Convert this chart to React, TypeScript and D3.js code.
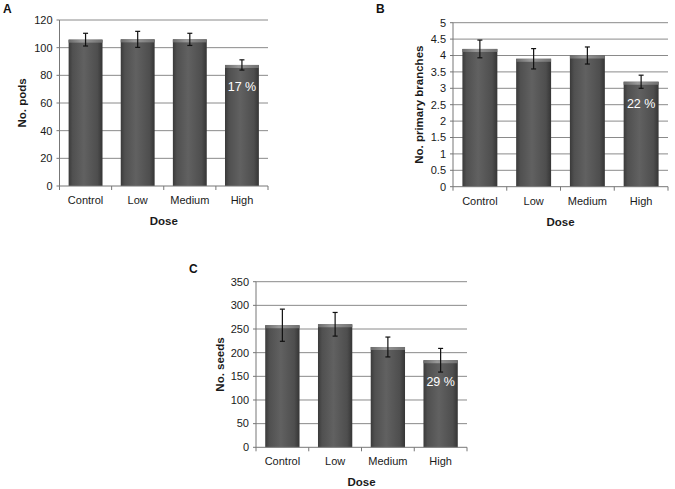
import React from "react";
import * as d3 from "d3";

const categories = ["Control", "Low", "Medium", "High"];

const podsMean = [105.8, 106, 106, 87.5];
const podsErr = [4.6, 5.8, 4.4, 3.7];
const podsTicks = [0, 20, 40, 60, 80, 100, 120];

const branchesMean = [4.2, 3.9, 4.0, 3.2];
const branchesErr = [0.27, 0.31, 0.26, 0.2];
const branchesTicks = [0, 0.5, 1, 1.5, 2, 2.5, 3, 3.5, 4, 4.5, 5];

const seedsMean = [258, 260, 212, 184];
const seedsErr = [34, 25, 21, 25];
const seedsTicks = [0, 50, 100, 150, 200, 250, 300, 350];

const panelLetters = ["A", "B", "C"];
const yTitles = ["No. pods", "No. primary branches", "No. seeds"];
const xTitle = "Dose";
const pctLabels = ["17 %", "22 %", "29 %"];

const FONT = "Arial, 'Liberation Sans', Helvetica, sans-serif";

type PanelProps = {
  idx: number;
  means: number[];
  errs: number[];
  ticks: number[];
  left: number;
  top: number;
  right: number;
  bottom: number;
  titleDx: number;
  letterX: number;
  letterY: number;
};

function Panel(p: PanelProps) {
  const x = d3
    .scaleBand<string>()
    .domain(categories)
    .range([p.left, p.right])
    .paddingInner(0.35)
    .paddingOuter(0.175);
  const y = d3
    .scaleLinear()
    .domain([0, p.ticks[p.ticks.length - 1]])
    .range([p.bottom, p.top]);
  const step = x.step();
  const fmt = (v: number) => String(v);
  const last = categories.length - 1;
  return (
    <g>
      <text x={p.letterX} y={p.letterY} fontFamily={FONT} fontWeight="bold" fontSize={12} fill="#111">
        {panelLetters[p.idx]}
      </text>
      {p.ticks.filter((t) => t > 0).map((t) => (
        <line key={"g" + t} x1={p.left} x2={p.right} y1={y(t)} y2={y(t)} stroke="#8a8a8a" strokeWidth={1} />
      ))}
      {p.ticks.map((t) => (
        <g key={"t" + t}>
          <line x1={p.left - 3} x2={p.left} y1={y(t)} y2={y(t)} stroke="#777" />
          <text x={p.left - 7} y={y(t)} dy="0.35em" textAnchor="end" fontFamily={FONT} fontSize={11} fill="#1a1a1a">
            {fmt(t)}
          </text>
        </g>
      ))}
      {categories.map((c, i) => {
        const bx = x(c)!;
        const bw = x.bandwidth();
        const yTop = y(p.means[i]);
        const e1 = y(p.means[i] + p.errs[i]);
        const e2 = y(p.means[i] - p.errs[i]);
        const cx = bx + bw / 2;
        return (
          <g key={c}>
            <rect x={bx} y={yTop} width={bw} height={p.bottom - yTop} fill="url(#barGrad)" />
            <rect x={bx} y={yTop} width={bw} height={3} fill="url(#capGrad)" />
            <line x1={cx} x2={cx} y1={e1} y2={e2} stroke="#111" strokeWidth={1.2} />
            <line x1={cx - 2.5} x2={cx + 2.5} y1={e1} y2={e1} stroke="#111" strokeWidth={1.2} />
            <line x1={cx - 2.5} x2={cx + 2.5} y1={e2} y2={e2} stroke="#111" strokeWidth={1.2} />
            {i === last && (
              <text x={cx} y={yTop + 26} textAnchor="middle" fontFamily={FONT} fontSize={12.5} fill="#fff">
                {pctLabels[p.idx]}
              </text>
            )}
            <text x={x(c)! + bw / 2} y={p.bottom + 18} textAnchor="middle" fontFamily={FONT} fontSize={11} fill="#1a1a1a">
              {c}
            </text>
          </g>
        );
      })}
      <line x1={p.left} x2={p.left} y1={p.top} y2={p.bottom} stroke="#777" />
      <line x1={p.left} x2={p.right} y1={p.bottom} y2={p.bottom} stroke="#777" />
      {d3.range(categories.length + 1).map((k) => (
        <line key={"xt" + k} x1={p.left + k * step} x2={p.left + k * step} y1={p.bottom} y2={p.bottom + 4} stroke="#777" />
      ))}
      <text
        x={(p.left + p.right) / 2}
        y={p.bottom + 39}
        textAnchor="middle"
        fontFamily={FONT}
        fontWeight="bold"
        fontSize={11.5}
        fill="#1a1a1a"
      >
        {xTitle}
      </text>
      <text
        transform={`translate(${p.left + p.titleDx},${(p.top + p.bottom) / 2}) rotate(-90)`}
        textAnchor="middle"
        dy="0.35em"
        fontFamily={FONT}
        fontWeight="bold"
        fontSize={11.5}
        fill="#1a1a1a"
      >
        {yTitles[p.idx]}
      </text>
    </g>
  );
}

export default function App() {
  return (
    <svg
      width={675}
      height={489}
      style={{ position: "absolute", left: 0, top: 0, background: "#fff" }}
    >
      <defs>
        <linearGradient id="barGrad" x1="0" x2="1" y1="0" y2="0">
          <stop offset="0" stopColor="#3a3a3a" />
          <stop offset="0.12" stopColor="#505050" />
          <stop offset="0.45" stopColor="#616161" />
          <stop offset="0.85" stopColor="#4e4e4e" />
          <stop offset="1" stopColor="#353535" />
        </linearGradient>
        <linearGradient id="capGrad" x1="0" x2="1" y1="0" y2="0">
          <stop offset="0" stopColor="#6a6a6a" />
          <stop offset="0.4" stopColor="#9a9a9a" />
          <stop offset="1" stopColor="#707070" />
        </linearGradient>
      </defs>
      <rect width={675} height={489} fill="#fff" />
      <Panel idx={0} means={podsMean} errs={podsErr} ticks={podsTicks}
        left={59.5} top={20} right={268} bottom={186} titleDx={-37.5} letterX={3} letterY={12.5} />
      <Panel idx={1} means={branchesMean} errs={branchesErr} ticks={branchesTicks}
        left={453} top={22.7} right={668} bottom={186.7} titleDx={-34} letterX={376} letterY={12.5} />
      <Panel idx={2} means={seedsMean} errs={seedsErr} ticks={seedsTicks}
        left={256} top={281.7} right={467} bottom={447.3} titleDx={-36} letterX={189} letterY={273} />
    </svg>
  );
}
